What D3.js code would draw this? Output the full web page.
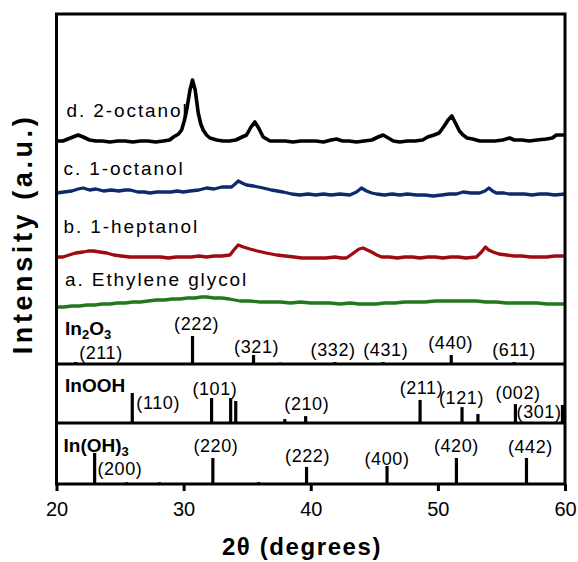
<!DOCTYPE html>
<html><head><meta charset="utf-8">
<script src="https://cdn.jsdelivr.net/npm/d3@7"></script>
<style>
body{margin:0;background:#fff;}
text{font-family:"Liberation Sans",Arial,sans-serif;}
</style></head>
<body><svg id="c" width="578" height="562"></svg>
<script>
// ---------- DATA ----------
const xTicks = [20, 30, 40, 50, 60];

// XRD patterns: [2theta, intensity (a.u., stacked)]
const seriesD_2octanol = [[20.0,223],[20.5,223],[20.9,225],[21.3,227],[21.7,229],[22.1,227],[22.6,224],[23.1,223],[23.6,223],[24.2,222],[24.8,223],[25.4,223],[26.0,222],[26.6,223],[27.2,223],[27.8,222],[28.4,223],[28.9,224],[29.2,227],[29.6,230],[29.84,234],[30.05,243],[30.24,254],[30.5,274],[30.7,284],[30.91,274],[31.15,251],[31.35,240],[31.54,234],[31.8,229],[32.07,226],[32.6,224],[33.1,223],[33.6,223],[34.1,224],[34.6,227],[34.95,229],[35.3,237],[35.6,242],[35.9,236],[36.26,227],[36.8,223],[37.4,223],[38.0,223],[38.6,222],[39.2,223],[39.8,223],[40.4,223],[41.0,222],[41.6,224],[42.03,225],[42.5,223],[43.0,223],[43.6,222],[44.2,223],[44.8,224],[45.3,227],[45.69,229],[46.1,226],[46.5,223],[47.0,222],[47.6,223],[48.2,223],[48.8,224],[49.2,227],[49.7,229],[50.1,231],[50.5,238],[50.8,244],[51.1,248],[51.46,239],[51.7,233],[51.98,229],[52.3,226],[52.74,225],[53.3,223],[53.9,223],[54.5,223],[55.1,224],[55.65,226],[56.0,224],[56.6,224],[57.2,223],[57.8,224],[58.54,225],[59.0,226],[59.32,229],[59.7,229],[60.0,229]];

const seriesC_1octanol = [[20.0,171],[20.6,172],[21.2,173],[21.7,175],[22.1,176],[22.6,174],[23.1,175],[23.7,173],[24.3,174],[24.9,173],[25.4,174],[25.8,174],[26.4,172],[26.9,172],[27.35,171],[27.9,172],[28.5,172],[29.0,172],[29.5,173],[29.97,172],[30.5,173],[31.2,174],[31.8,176],[32.4,175],[33.0,177],[33.77,177],[34.05,180],[34.3,183],[34.6,181],[34.95,179],[35.5,178],[36.26,176],[36.9,174],[37.83,172],[38.5,170],[39.14,169],[39.8,170],[40.4,169],[41.0,170],[41.6,169],[42.3,170],[43.07,169],[43.6,172],[43.99,176],[44.39,173],[44.8,171],[45.17,170],[45.8,169],[46.4,170],[47.0,169],[47.6,170],[48.3,169],[49.0,169],[49.62,168],[50.3,169],[50.9,170],[51.46,170],[51.98,172],[52.6,171],[53.29,171],[53.7,173],[54.02,176],[54.3,173],[54.6,171],[55.2,171],[55.6,170],[56.18,170],[56.8,170],[57.4,169],[58.0,170],[58.6,170],[59.2,169],[60.0,170]];

const seriesB_1heptanol = [[20.0,107],[20.5,107],[21.0,109],[21.5,111],[22.1,112],[22.5,113],[22.9,113],[23.4,112],[23.95,111],[24.5,109],[25.1,108],[25.78,107],[26.4,107],[27.0,107],[27.6,107],[28.2,107],[28.8,106],[29.4,107],[29.97,107],[30.6,107],[31.2,108],[31.8,107],[32.4,108],[33.0,108],[33.64,109],[33.95,114],[34.29,119],[34.7,117],[35.21,115],[35.8,113],[36.5,111],[37.31,109],[38.0,108],[38.7,107],[39.3,106],[39.93,106],[40.6,106],[41.2,106],[41.9,107],[42.4,106],[42.81,106],[43.15,109],[43.47,112],[43.8,115],[44.12,116],[44.45,114],[44.78,112],[45.2,109],[45.57,107],[46.2,107],[46.8,106],[47.4,107],[48.0,107],[48.6,106],[49.2,107],[49.8,107],[50.4,106],[51.0,107],[51.6,107],[52.2,106],[53.03,107],[53.43,112],[53.74,117],[54.0,114],[54.34,112],[54.8,110],[55.39,109],[56.0,108],[56.6,108],[57.3,107],[57.9,107],[58.54,107],[59.2,108],[60.0,108]];

const seriesA_EG = [[20.0,57],[20.6,57],[21.2,58],[21.8,58],[22.4,59],[23.0,59],[23.6,60],[24.2,60],[24.8,61],[25.4,61],[26.0,62],[26.6,62],[27.2,63],[27.88,64],[28.5,64],[29.1,65],[29.7,65],[30.3,66],[30.9,66],[31.4,67],[31.8,67],[32.4,66],[33.0,66],[33.6,65],[34.43,63],[35.2,63],[36.0,62],[36.8,62],[37.6,62],[38.4,61],[39.2,62],[40.0,61],[40.72,61],[41.5,61],[42.3,60],[43.1,61],[43.8,60],[44.39,60],[45.1,60],[45.8,61],[46.6,61],[47.4,62],[48.2,62],[49.0,62],[49.8,63],[50.6,63],[51.4,63],[52.25,63],[53.0,63],[53.8,62],[54.6,62],[55.4,61],[56.2,61],[57.0,61],[57.8,61],[58.6,60],[59.3,60],[60.0,60]];

const seriesNames = ["d. 2-octanol", "c. 1-octanol", "b. 1-heptanol", "a. Ethylene glycol"];
const seriesColors = ["#000000", "#0d2a6b", "#9e0b10", "#23781f"];

// Reference patterns: 2theta, relative intensity (%), hkl
const in2o3Pos = [21.5, 30.7, 35.5, 37.6, 41.9, 45.7, 51.05, 56.0];
const in2o3Int = [7, 100, 32, 5, 7, 7, 32, 7];
const in2o3Labels = [["(211)",23.5],["(222)",31.02],["(321)",35.74],["(332)",41.76],["(431)",45.9],["(440)",51.01],["(611)",55.99]];

const inoohPos = [25.96, 32.2, 33.7, 34.1, 37.96, 39.6, 48.6, 51.9, 53.15, 56.1, 59.8];
const inoohInt = [100, 83, 83, 73, 13, 23, 77, 53, 30, 63, 60];
const inoohLabels = [["(110)",28.0],["(101)",32.46],["(210)",39.69],["(211)",48.71],["(121)",51.86],["(002)",56.31],["(301)",57.96]];

const inoh3Pos = [23.0, 25.5, 28.1, 32.3, 35.9, 39.67, 46.0, 51.46, 56.97];
const inoh3Int = [100, 6, 6, 84, 6, 55, 58, 84, 84];
const inoh3Labels = [["(200)",24.99],["(220)",32.54],["(222)",39.75],["(400)",46.0],["(420)",51.46],["(442)",57.28]];

// ---------- LAYOUT ----------
const L = 56.5, R = 565, T = 14, B = 484;
const div1 = 364, div2 = 423;
const svg = d3.select("#c");

const x = d3.scaleLinear().domain([20, 60]).range([L, R]);
const yMain = d3.scaleLinear().domain([0, 350]).range([div1, T]);

svg.append("clipPath").attr("id","clip").append("rect")
  .attr("x", L).attr("y", T).attr("width", R - L).attr("height", B - T);
const g = svg.append("g").attr("clip-path","url(#clip)");

// curves
const line = d3.line().x(d => x(d[0])).y(d => yMain(d[1]));
const allSeries = [seriesD_2octanol, seriesC_1octanol, seriesB_1heptanol, seriesA_EG];
allSeries.forEach((s, i) => {
  g.append("path").datum(s).attr("d", line)
    .attr("fill","none").attr("stroke", seriesColors[i])
    .attr("stroke-width", i === 0 ? 3.6 : 3.3).attr("stroke-linejoin","round");
});

// curve labels
const curveLabelPos = [[66.5,116.5],[63.5,175],[63.5,233],[65,286]];
seriesNames.forEach((n, i) => {
  svg.append("text").attr("x", curveLabelPos[i][0]).attr("y", curveLabelPos[i][1])
    .attr("font-size", 19).attr("letter-spacing", "1.9px").attr("fill","#000").text(n);
});

// stick panels
function sticks(pos, ints, base, h) {
  const ys = d3.scaleLinear().domain([0, 100]).range([base, base - h]);
  g.selectAll(null).data(d3.zip(pos, ints)).join("line")
    .attr("x1", d => x(d[0])).attr("x2", d => x(d[0]))
    .attr("y1", base).attr("y2", d => ys(d[1]))
    .attr("stroke","#000").attr("stroke-width", 3.2);
}
sticks(in2o3Pos, in2o3Int, div1, 28);
sticks(inoohPos, inoohInt, div2, 30);
sticks(inoh3Pos, inoh3Int, B, 31);

function hklLabels(labels, baselines) {
  labels.forEach((l, i) => {
    svg.append("text").attr("x", x(l[1])).attr("y", baselines[i])
      .attr("text-anchor","middle").attr("font-size", 18).attr("letter-spacing","0.6px").text(l[0]);
  });
}
hklLabels(in2o3Labels, [358.5, 330, 353, 356, 356, 349, 356]);
hklLabels(inoohLabels, [409, 395, 410, 394, 404, 399, 418]);
hklLabels(inoh3Labels, [475, 452, 462, 465, 452, 453]);

// phase labels
function phase(xp, yp, parts) {
  const t = svg.append("text").attr("x", xp).attr("y", yp)
    .attr("font-size", 19).attr("font-weight","bold");
  parts.forEach(p => {
    const ts = t.append("tspan").text(p[0]);
    if (p[1]) ts.attr("font-size", 13).attr("dy", 4);
    else if (p[2]) ts.attr("dy", -4);
  });
}
phase(65, 335, [["In"],["2",true],["O",false,true],["3",true]]);
phase(65, 392, [["InOOH"]]);
phase(63.5, 452, [["In(OH)"],["3",true]]);

// frame and dividers
svg.append("rect").attr("x", L).attr("y", T).attr("width", R - L).attr("height", B - T)
  .attr("fill","none").attr("stroke","#000").attr("stroke-width", 3);
[div1, div2].forEach(yv => svg.append("line").attr("x1", L).attr("x2", R)
  .attr("y1", yv).attr("y2", yv).attr("stroke","#000").attr("stroke-width", 3));

// x axis
const ax = svg.append("g").attr("transform", `translate(0,${B})`)
  .call(d3.axisBottom(x).tickValues(xTicks).tickSize(7).tickSizeOuter(0).tickPadding(11));
ax.select(".domain").remove();
ax.selectAll(".tick line").attr("stroke-width", 3);
ax.selectAll(".tick text").attr("font-size", 20).attr("font-family","Liberation Sans, Arial, sans-serif").attr("fill","#000");

// axis titles
svg.append("text").attr("x", 302).attr("y", 555).attr("text-anchor","middle")
  .attr("font-size", 24).attr("font-weight","bold").attr("letter-spacing","1.6px").text("2θ (degrees)");
svg.append("text").attr("transform","translate(32,234) rotate(-90)").attr("text-anchor","middle")
  .attr("font-size", 27).attr("font-weight","bold").attr("letter-spacing","3.6px").text("Intensity (a.u.)");
</script></body></html>
